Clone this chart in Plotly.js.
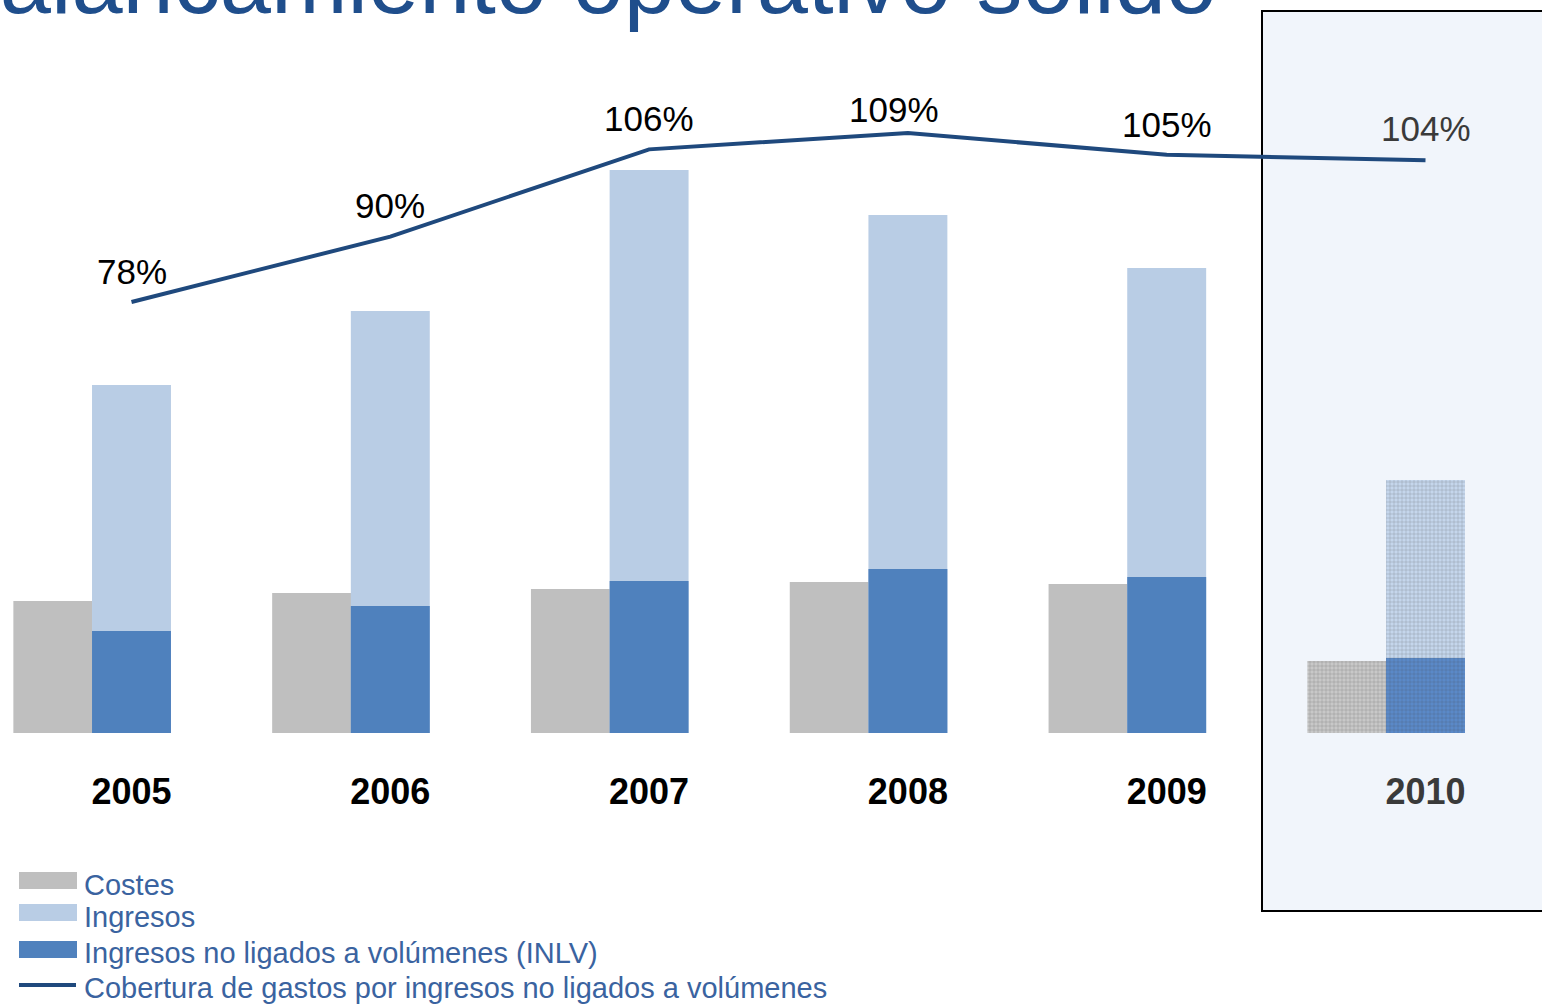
<!DOCTYPE html>
<html>
<head>
<meta charset="utf-8">
<script src="https://cdn.plot.ly/plotly-3.0.1.min.js"></script>
<style>
  html, body { margin: 0; padding: 0; background: #ffffff; }
  #chart { width: 1542px; height: 1005px; }
</style>
</head>
<body>
<div id="chart"></div>
<script>
// ---- Data ----
const years = ['2005', '2006', '2007', '2008', '2009', '2010'];
const costes = [132, 140, 144, 151, 149, 72];
const ingresos = [348, 422, 563, 518, 465, 253];
const inlv = [102, 127, 152, 164, 156, 75];
const cobertura = [78, 90, 106, 109, 105, 104];
const coberturaLabels = ['78%', '90%', '106%', '109%', '105%', '104%'];
const legendLabels = ['Costes', 'Ingresos', 'Ingresos no ligados a volúmenes (INLV)', 'Cobertura de gastos por ingresos no ligados a volúmenes'];
const titleText = 'Apalancamiento operativo sólido';

// ---- Layout helpers (pixel -> paper) ----
const W = 1542, H = 1005, MT = 40, MB = 272;
const PH = H - MT - MB;
const px = v => v / W;
const py = v => (H - MB - v) / PH;

const xpos = years.map((_, i) => i);
const nY = years.length;
const last = nY - 1;
const isForecast = years.map((_, i) => i === last);

const COL_COST = '#bfbfbf', COL_ING = '#b9cde5', COL_INLV = '#4f81bd', COL_LINE = '#1f497d';
const LEG_TEXT = '#3a63a0';

function pattern(fg) {
  return {
    shape: isForecast.map(f => f ? '+' : ''),
    fillmode: 'overlay',
    fgcolor: fg,
    fgopacity: 0.35,
    size: 4,
    solidity: 0.25
  };
}

const barW = 0.305;
const traces = [
  {
    type: 'bar', name: legendLabels[0], x: xpos.map(v => v - 0.304), y: costes,
    width: barW, yaxis: 'y',
    marker: { color: isForecast.map(f => f ? '#c8c8c8' : COL_COST), line: { width: 0 }, pattern: pattern('#9a9a9a') },
    showlegend: false
  },
  {
    type: 'bar', name: legendLabels[1], x: xpos, y: ingresos,
    width: barW, yaxis: 'y',
    marker: { color: isForecast.map(f => f ? '#c5d6ec' : COL_ING), line: { width: 0 }, pattern: pattern('#8fb0da') },
    showlegend: false
  },
  {
    type: 'bar', name: legendLabels[2], x: xpos, y: inlv,
    width: barW, yaxis: 'y',
    marker: { color: isForecast.map(f => f ? '#5a89c8' : COL_INLV), line: { width: 0 }, pattern: pattern('#2f5f9f') },
    showlegend: false
  },
  {
    type: 'scatter', mode: 'lines', name: legendLabels[3], x: xpos, y: cobertura,
    yaxis: 'y2', line: { color: COL_LINE, width: 4 }, showlegend: false
  }
];

// labels above the line points (offsets in pixels)
const labelShift = [[0, 31], [0, 31], [0, 31], [-14, 24], [0, 30], [0, 32]];
const annotations = cobertura.map((v, i) => ({
  x: xpos[i], y: v, xref: 'x', yref: 'y2',
  text: coberturaLabels[i], showarrow: false,
  xanchor: 'center', yanchor: 'middle',
  xshift: labelShift[i][0], yshift: labelShift[i][1],
  font: { family: 'Liberation Sans, Arial, sans-serif', size: 35, color: isForecast[i] ? '#3a3a3a' : '#000000' }
}));

// custom legend
const legendRows = [
  { kind: 'rect', color: COL_COST, y0: 872, y1: 889, ty: 885 },
  { kind: 'rect', color: COL_ING, y0: 904, y1: 921, ty: 917 },
  { kind: 'rect', color: COL_INLV, y0: 941, y1: 958, ty: 953 },
  { kind: 'line', color: COL_LINE, y0: 985, y1: 985, ty: 988 }
];
const shapes = [
  {
    type: 'rect', xref: 'paper', yref: 'paper', layer: 'below',
    x0: px(1262), x1: px(1560), y0: py(911), y1: py(11),
    fillcolor: '#f1f5fb', line: { color: '#000000', width: 2 }
  }
];
legendRows.forEach((r, i) => {
  if (r.kind === 'rect') {
    shapes.push({ type: 'rect', xref: 'paper', yref: 'paper', x0: px(19), x1: px(77), y0: py(r.y1), y1: py(r.y0), fillcolor: r.color, line: { width: 0 } });
  } else {
    shapes.push({ type: 'line', xref: 'paper', yref: 'paper', x0: px(19), x1: px(76), y0: py(r.y0), y1: py(r.y0), line: { color: r.color, width: 4 } });
  }
  annotations.push({
    xref: 'paper', yref: 'paper', x: px(82), y: py(r.ty), xanchor: 'left', yanchor: 'middle',
    text: legendLabels[i], showarrow: false,
    font: { family: 'Liberation Sans, Arial, sans-serif', size: 29, color: LEG_TEXT }
  });
});

const layout = {
  width: W, height: H,
  margin: { l: 0, r: 0, t: MT, b: MB, pad: 0 },
  paper_bgcolor: '#ffffff',
  plot_bgcolor: 'rgba(0,0,0,0)',
  barmode: 'overlay',
  showlegend: false,
  hovermode: false,
  title: {
    text: titleText,
    xref: 'container', yref: 'container',
    x: 1217 / W, xanchor: 'right',
    y: 1 - 13 / H, yanchor: 'bottom',
    font: { family: 'Liberation Sans, Arial, sans-serif', size: 92, color: '#1f4e8c' }
  },
  xaxis: {
    range: [-131.5 / 258.8, (W - 131.5) / 258.8],
    tickvals: xpos,
    ticktext: years.map((y, i) => isForecast[i] ? '<span style="color:#3a3a3a">' + y + '</span>' : y),
    ticks: '', ticklabelstandoff: 34,
    tickfont: { family: 'Liberation Sans, Arial, sans-serif', size: 36, color: '#000000', weight: 'bold' },
    showgrid: false, zeroline: false, showline: false, fixedrange: true
  },
  yaxis: { range: [0, PH], visible: false, showgrid: false, zeroline: false, fixedrange: true },
  yaxis2: { range: [-1.05, 126.06], overlaying: 'y', side: 'right', visible: false, showgrid: false, zeroline: false, fixedrange: true },
  shapes: shapes,
  annotations: annotations
};

Plotly.newPlot('chart', traces, layout, { displayModeBar: false, staticPlot: true });
</script>
</body>
</html>
